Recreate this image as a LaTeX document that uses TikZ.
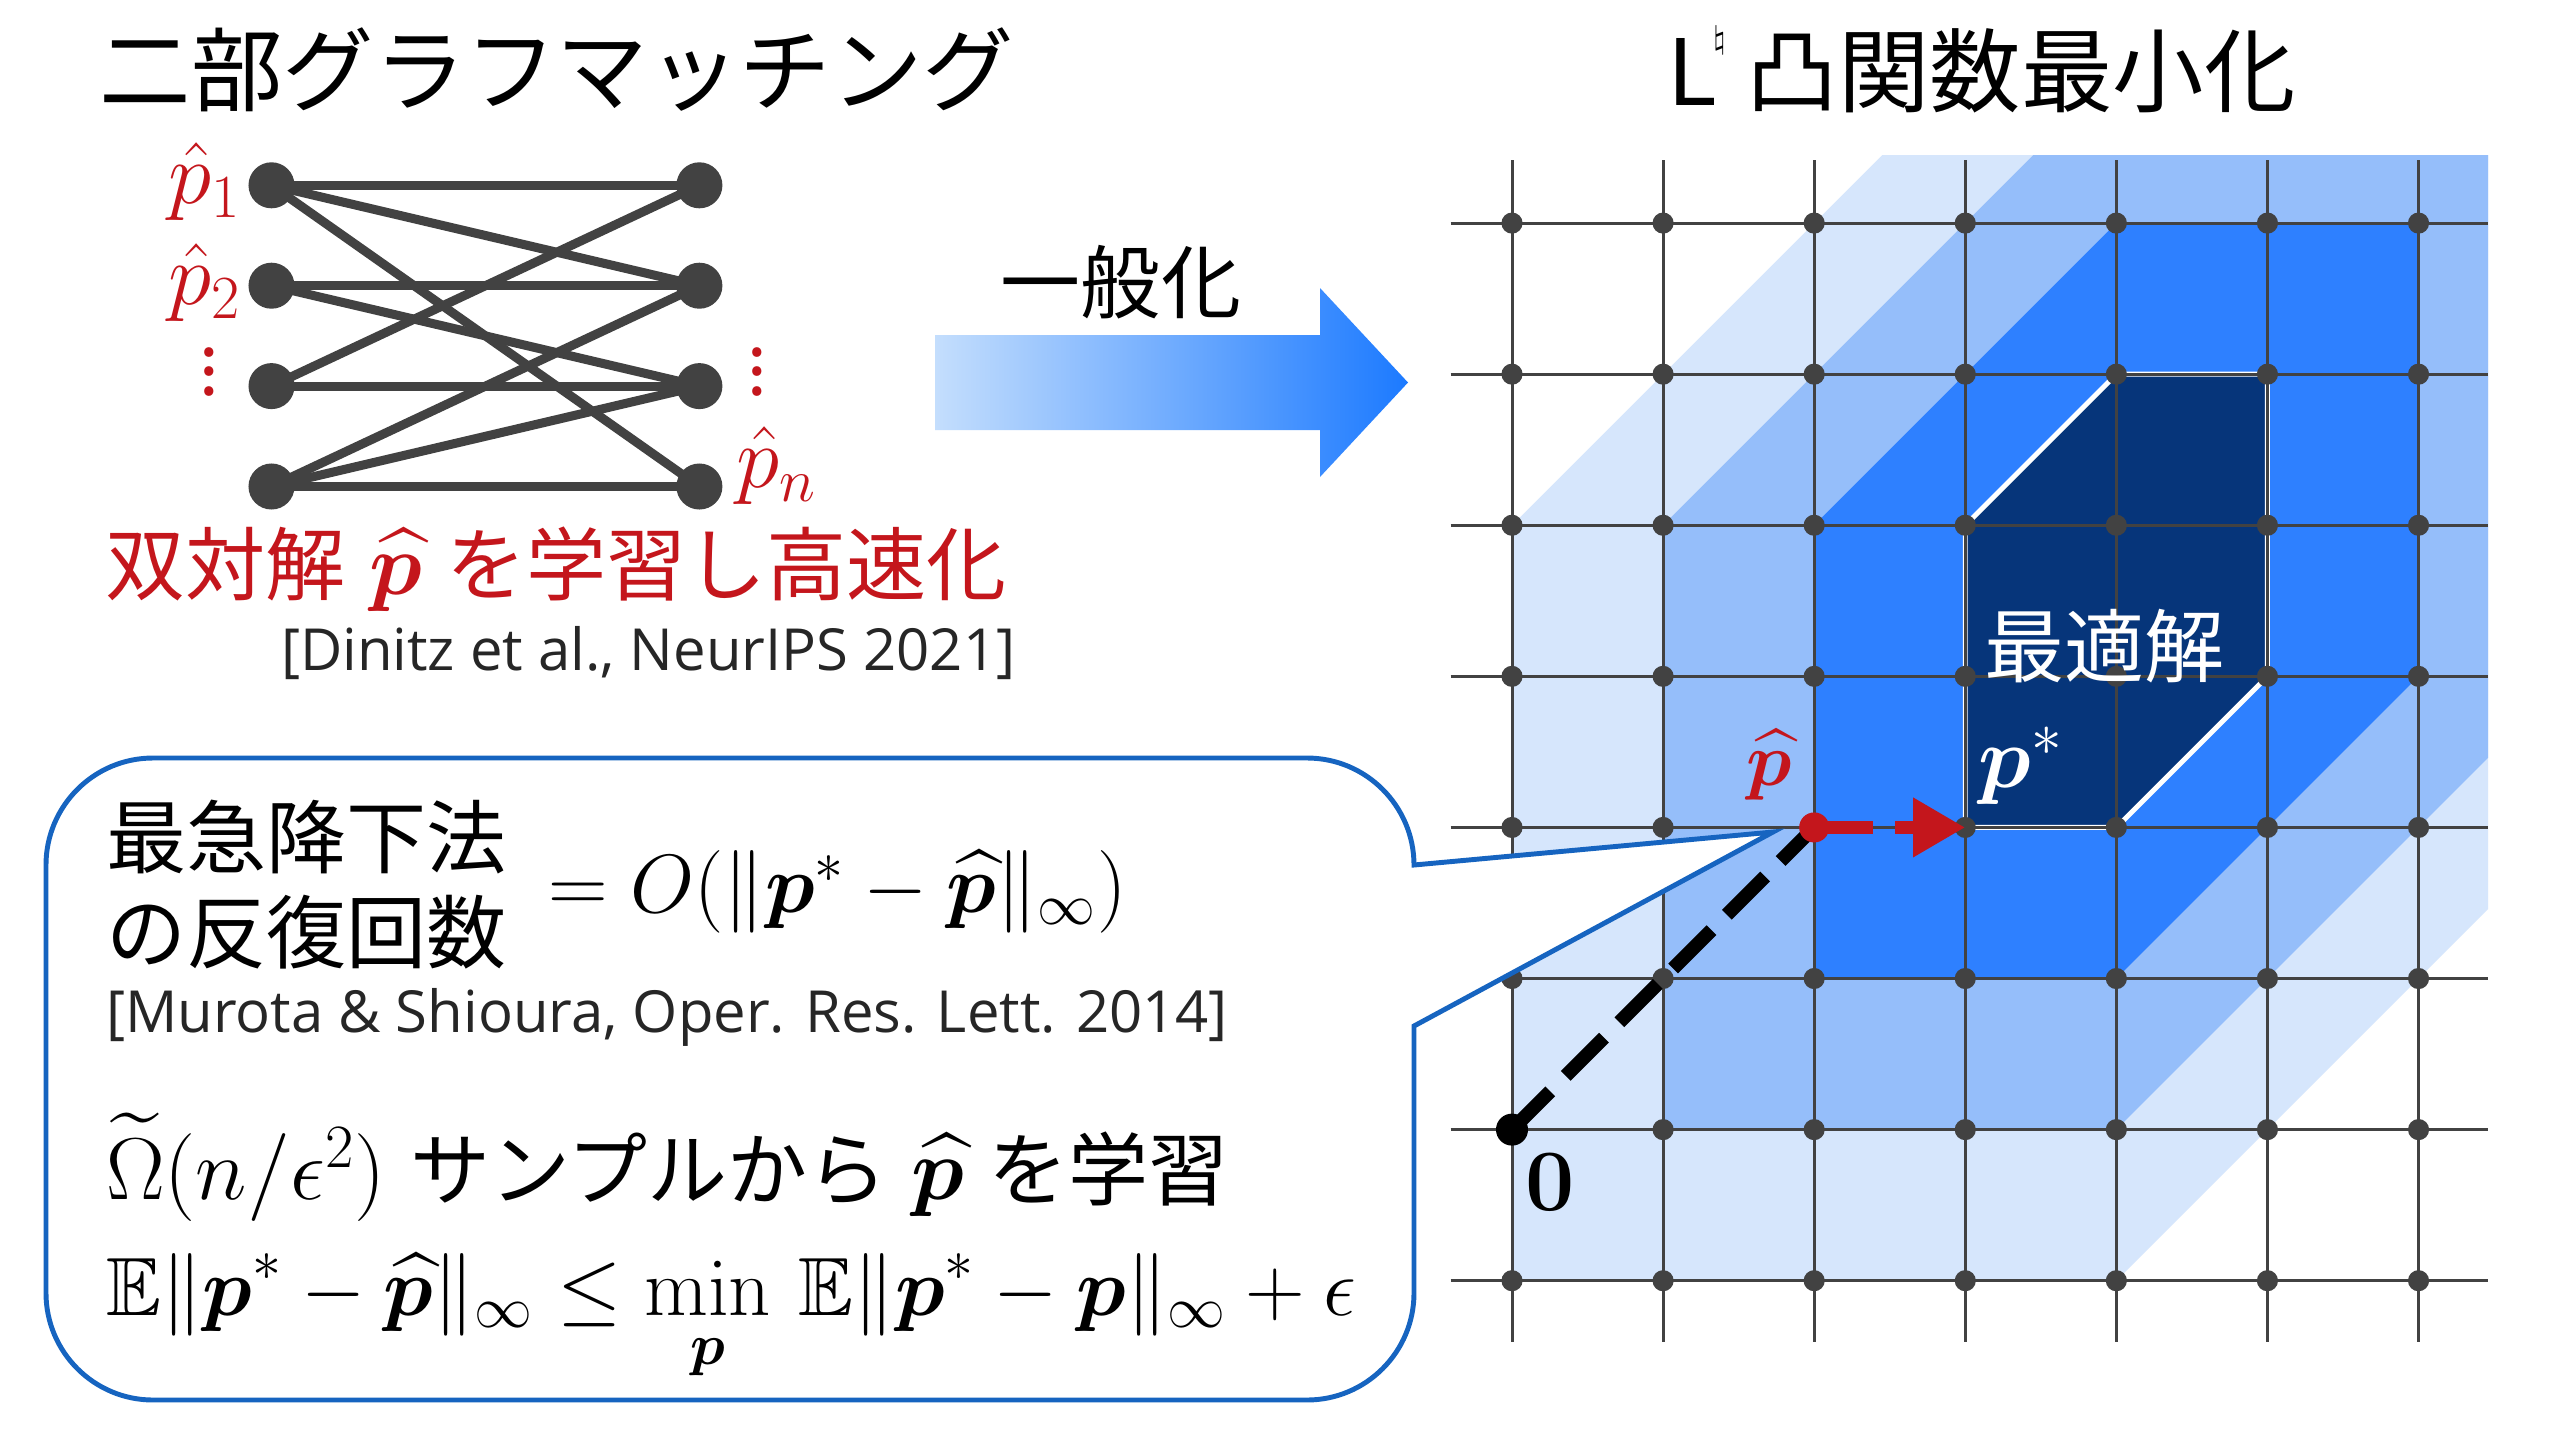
\RequirePackage{fix-cm}
\documentclass[tikz,border=0pt]{standalone}
\usepackage[no-math]{fontspec}
\usepackage{amsmath,amssymb,bm}
\setmainfont{Noto Sans CJK JP}
\newfontfamily\reffont{Open Sans}
\usetikzlibrary{arrows.meta}
\definecolor{lvA}{RGB}{214,230,252}
\definecolor{lvB}{RGB}{149,190,250}
\definecolor{lvC}{RGB}{46,128,255}
\definecolor{optc}{RGB}{6,53,122}
\definecolor{gridc}{RGB}{66,66,66}
\definecolor{myred}{RGB}{196,22,28}
\definecolor{callblue}{RGB}{22,100,192}
\definecolor{arrL}{RGB}{196,222,253}
\definecolor{arrM}{RGB}{150,196,250}
\definecolor{arrR}{RGB}{28,122,255}
\definecolor{refgray}{RGB}{38,38,38}
\newcommand{\bigphat}{{\fontsize{25}{27}\selectfont$\widehat{\bm p}$}}
\begin{document}
\begin{tikzpicture}[x=0.01cm,y=-0.01cm,
  txt/.style={inner sep=0pt,outer sep=0pt},
  ttl/.style={txt,font=\fontsize{26}{30}\selectfont},
  big/.style={txt,font=\fontsize{22.76}{27}\selectfont},
  mth/.style={txt,font=\fontsize{23.5}{27}\selectfont},
  reftxt/.style={txt,font=\reffont\fontsize{16.5}{19}\selectfont,text=refgray},
  gnode/.style={circle,fill=gridc,inner sep=0pt,minimum size=0.46cm},
  gedge/.style={draw=gridc,line width=2.56pt},
  glab/.style={txt,text=myred,font=\fontsize{24.9}{26}\selectfont},
  gline/.style={draw=gridc,line width=0.85pt},
  callout/.style={draw=callblue,fill=white,line width=1.4pt,line join=miter},
]
\useasboundingbox (0,0) rectangle (2560,1439);
\fill[white] (0,0) rectangle (2560,1439);

% ---------- titles ----------
\node[ttl,anchor=base] (t1) at (557,104) {二部グラフマッチング};
\node[ttl,anchor=base west] (t2) at (1667,105) {L\kern-1pt\raisebox{16pt}{\fontsize{9}{9}\selectfont$\natural$}\kern6pt凸関数最小化};

% ---------- bipartite graph ----------
\foreach \k/\yy in {1/185.3,2/285.7,3/386.1,4/486.5}{
  \node[gnode] (L\k) at (271.5,\yy) {};
  \node[gnode] (R\k) at (699.4,\yy) {};
}
\foreach \a/\b in {1/1,1/2,1/4,2/2,2/3,3/1,3/3,4/2,4/3,4/4}{
  \draw[gedge] (L\a.center) -- (R\b.center);
}
\node[glab,anchor=east] (lp1) at (241,182) {$\hat{p}_1$};
\node[glab,anchor=east] (lp2) at (241,283) {$\hat{p}_2$};
\node[glab,anchor=west] (lpn) at (736,466) {$\hat{p}_n$};
\node[glab,font=\fontsize{20}{20}\selectfont] (vd1) at (209,372) {\vbox{\baselineskip=5.5pt\lineskiplimit=-20pt\hbox{.}\hbox{.}\hbox{.}}};
\node[glab,font=\fontsize{20}{20}\selectfont] (vd2) at (757,372) {\vbox{\baselineskip=5.5pt\lineskiplimit=-20pt\hbox{.}\hbox{.}\hbox{.}}};

\node[big,anchor=base,text=myred] (red) at (556,594) {双対解\hspace{0.3em}\bigphat\hspace{0.3em}を学習し高速化};
\node[reftxt,anchor=base west] (ref1) at (281,670) {[Dinitz et al., NeurIPS 2021]};

% ---------- arrow ----------
\shade[left color=arrL,middle color=arrM,right color=arrR]
  (935,335) -- (1320,335) -- (1320,288) -- (1408,382.5) -- (1320,477) -- (1320,430) -- (935,430) -- cycle;
\node[big,anchor=base] (gen) at (1121,312) {一般化};

% ---------- grid ----------
\begin{scope}[shift={(1512,1129.6)},x=1.51cm,y=1.51cm]
  \fill[lvA] (0,-1) -- (4,-1) -- (6.46,1.46) -- (6.46,6.45) -- (2.45,6.45) -- (0,4) -- cycle;
  \fill[lvB] (1,0) -- (4,0) -- (6.46,2.46) -- (6.46,6.45) -- (3.45,6.45) -- (1,4) -- cycle;
  \fill[lvC] (2,1) -- (4,1) -- (6,3) -- (6,6) -- (4,6) -- (2,4) -- cycle;
  \filldraw[fill=optc,draw=white,line width=1.4pt] (3,2) -- (4,2) -- (5,3) -- (5,5) -- (4,5) -- (3,4) -- cycle;
  \foreach \i in {0,...,6}{ \draw[gline] (\i,-1.405) -- (\i,6.42); }
  \foreach \j in {-1,...,6}{ \draw[gline] (-0.406,\j) -- (6.46,\j); }
  \foreach \i in {0,...,6}{ \foreach \j in {-1,...,6}{ \fill[gridc] (\i,\j) circle[radius=0.07]; } }
  \node[circle,fill=black,inner sep=0pt,minimum size=0.32cm] (o) at (0,0) {};
  \coordinate (ph) at (2,2);
  \coordinate (ps) at (3,2);
  \draw[black,line width=3.9pt,dash pattern=on 15.4pt off 6.2pt] (o.center) -- (ph);
  \draw[myred,line width=3.9pt,dash pattern=on 16.8pt off 6.3pt,-{Triangle[length=14.8pt,width=15.9pt]}] (ph) -- (ps);
  \node[circle,fill=myred,inner sep=0pt,minimum size=0.30cm] (phdot) at (ph) {};
  \node[txt,text=myred,font=\fontsize{21.5}{24}\selectfont] (lph) at (1.70,2.41) {$\widehat{\bm p}$};
  \node[txt,text=white,font=\fontsize{24.9}{26}\selectfont] (lps) at (3.37,2.41) {$\bm p^{*}$};
  \node[txt,font=\fontsize{24.9}{26}\selectfont] (lo) at (0.25,-0.35) {$\mathbf{0}$};
  \node[big,text=white] (lopt) at (3.92,3.2) {最適解};
\end{scope}

% ---------- callout ----------
\draw[callout] (153,758) -- (1307,758) .. controls (1366,758) and (1414,806) .. (1414,865)
  -- (1773,832) -- (1414,1026) -- (1414,1293) .. controls (1414,1352) and (1366,1400) .. (1307,1400)
  -- (153,1400) .. controls (94,1400) and (46,1352) .. (46,1293) -- (46,865)
  .. controls (46,806) and (94,758) .. (153,758) -- cycle;

\node[big,anchor=base west] (c1) at (106,867) {最急降下法};
\node[big,anchor=base west] (c2) at (106,962) {の反復回数};
\node[mth,anchor=base west] (c3) at (548,912) {$= O(\|\bm p^{*} - \widehat{\bm p}\|_\infty)$};
\node[reftxt,anchor=base west] (ref2) at (106,1032) {[Murota \& Shioura, Oper. Res. Lett. 2014]};
\node[big,anchor=base west] (c4) at (106,1199) {{\fontsize{25}{28}\selectfont$\widetilde{\Omega}(n/\epsilon^{2})$}\hspace{0.3em}サンプルから\hspace{0.3em}\bigphat\hspace{0.3em}を学習};
\node[mth,anchor=base west] (c5) at (106,1315) {$\displaystyle \mathbb{E}\|\bm p^{*}-\widehat{\bm p}\|_\infty \le \min_{\bm p}\,\mathbb{E}\|\bm p^{*} - \bm p\|_\infty + \epsilon$};
\end{tikzpicture}
\end{document}
